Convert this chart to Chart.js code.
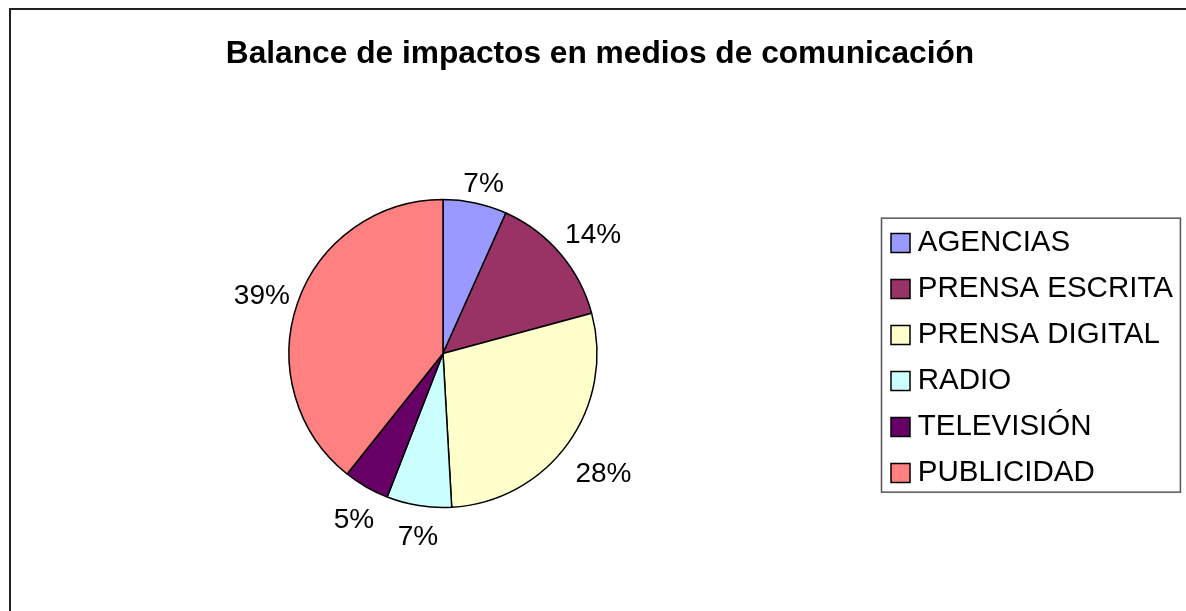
<!DOCTYPE html>
<html><head><meta charset="utf-8">
<script src="https://cdn.jsdelivr.net/npm/chart.js@4/dist/chart.umd.min.js"></script>
<style>
html,body{margin:0;padding:0;background:#fff;}
#wrap{width:1186px;height:611px;position:relative;}
</style>
</head><body>
<div id="wrap"><canvas id="c"></canvas></div>
<script>
const categories = ['AGENCIAS', 'PRENSA ESCRITA', 'PRENSA DIGITAL', 'RADIO', 'TELEVISIÓN', 'PUBLICIDAD'];
const shares = [6.7, 14.1, 28.3, 6.8, 4.8, 39.3];
const sliceColors = ['#9999FF', '#993366', '#FFFFCC', '#CCFFFF', '#660066', '#FF8080'];
const chartTitle = 'Balance de impactos en medios de comunicación';

const FONT = '"Liberation Sans", Arial, sans-serif';

// place title, plot area and legend boxes horizontally like the original sheet chart
const placeBoxes = {
  id: 'placeBoxes',
  afterLayout(chart) {
    const ca = chart.chartArea;
    const dx = 443 - (ca.left + ca.right) / 2;
    ca.left += dx; ca.right += dx;
    const t = chart.titleBlock;
    if (t) { const d = 600 - (t.left + t.right) / 2; t.left += d; t.right += d; }
    const lg = chart.legend;
    if (lg) {
      const w = lg.width, h = lg.height;
      lg.left = 881.5; lg.right = lg.left + w;
      lg.top += 2; lg.bottom = lg.top + h;
    }
  }
};

const framePlugin = {
  id: 'frame',
  afterDraw(chart) {
    const ctx = chart.ctx;
    ctx.save();
    ctx.strokeStyle = '#222';
    ctx.lineWidth = 2;
    ctx.beginPath();
    ctx.moveTo(10, chart.height);
    ctx.lineTo(10, 9);
    ctx.lineTo(chart.width, 9);
    ctx.stroke();
    // legend border
    const lg = chart.legend;
    if (lg && lg.legendHitBoxes && lg.legendHitBoxes.length) {
      const hb = lg.legendHitBoxes;
      let l = Infinity, r = -Infinity;
      hb.forEach(b => { l = Math.min(l, b.left); r = Math.max(r, b.left + b.width); });
      const t = hb[0].top, bt = hb[hb.length - 1].top + hb[hb.length - 1].height;
      ctx.strokeStyle = '#555';
      ctx.lineWidth = 1.5;
      ctx.strokeRect(l - 16.5, t - 10, r - l + 24, bt - t + 14.5);
    }
    ctx.restore();
  }
};

const pctLabels = {
  id: 'pctLabels',
  afterDatasetsDraw(chart) {
    const ctx = chart.ctx;
    const meta = chart.getDatasetMeta(0);
    const data = chart.data.datasets[0].data;
    const total = data.reduce((a, b) => a + b, 0);
    ctx.save();
    ctx.font = '28px ' + FONT;
    ctx.fillStyle = '#000';
    ctx.textAlign = 'center';
    ctx.textBaseline = 'middle';
    meta.data.forEach((arc, i) => {
      const p = arc.getProps(['x', 'y', 'startAngle', 'endAngle', 'outerRadius'], true);
      const mid = (p.startAngle + p.endAngle) / 2;
      const txt = Math.round(data[i] / total * 100) + '%';
      const hw = ctx.measureText(txt).width / 2, hh = 11;
      const cx = Math.cos(mid), sy = Math.sin(mid);
      const ext = Math.abs(cx) * hw + Math.abs(sy) * hh;
      const r = p.outerRadius + 11 + ext;
      ctx.fillText(txt, p.x + cx * r + 3, p.y + sy * r + 7);
    });
    ctx.restore();
  }
};

Chart.defaults.color = '#000';
Chart.defaults.font.family = FONT;

new Chart(document.getElementById('c'), {
  type: 'pie',
  data: {
    labels: categories,
    datasets: [{
      data: shares,
      backgroundColor: sliceColors,
      borderColor: '#000',
      borderWidth: 1.5,
      hoverOffset: 0
    }]
  },
  options: {
    responsive: true,
    maintainAspectRatio: false,
    animation: false,
    radius: 154,
    layout: { padding: { left: 0, right: 0, top: 0, bottom: 103.5 } },
    plugins: {
      title: {
        display: true,
        text: chartTitle,
        color: '#000',
        font: { family: FONT, size: 31.7, weight: 'bold' },
        padding: { top: 35, bottom: 126.46 }
      },
      legend: {
        display: true,
        position: 'right',
        fullSize: false,
        title: { display: true, text: '', padding: 0, font: { size: 4 } },
        labels: {
          color: '#000',
          font: { family: FONT, size: 29.5 },
          usePointStyle: true,
          pointStyle: 'rect',
          boxWidth: 5,
          boxHeight: 19,
          padding: 16.5
        }
      },
      tooltip: { enabled: false }
    },
    events: []
  },
  plugins: [placeBoxes, framePlugin, pctLabels]
});
</script>
</body></html>
